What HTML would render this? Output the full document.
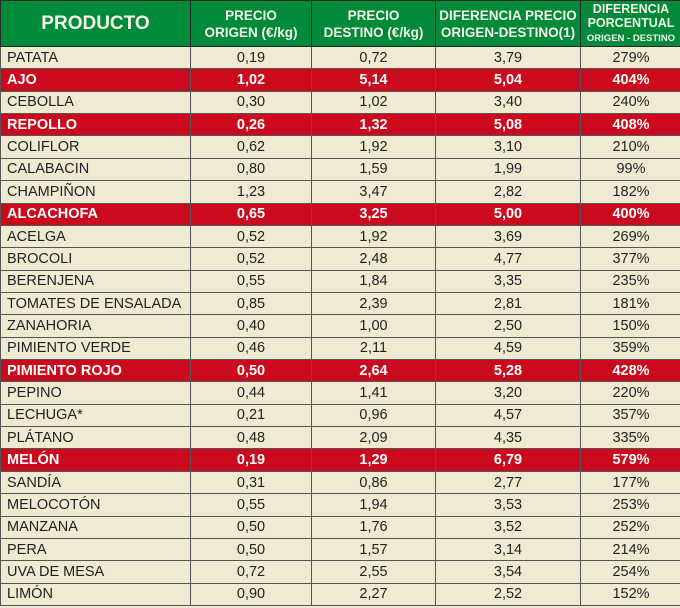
<!DOCTYPE html>
<html><head><meta charset="utf-8"><style>
html,body{margin:0;padding:0;width:680px;height:608px;overflow:hidden;background:#efebd3;}
table{border-collapse:collapse;table-layout:fixed;width:681px;position:absolute;left:0;top:0;font-family:"Liberation Sans",Arial,sans-serif;}
td,th{border:1px solid #555;padding:0;text-align:center;font-size:14.5px;color:#222;white-space:nowrap;overflow:hidden;}
td:first-child{text-align:left;padding-left:6px;}
th{background:#018a3b;color:#f4f4e4;font-weight:bold;font-size:13.5px;line-height:17px;height:45px;border-color:#2a2a2a;}
th.p{font-size:19px;}
th.s{font-size:12.5px;line-height:14px;}
th.s span{font-size:9.5px;}
tr.r{height:22.36px;background:#efebd3;}
tr.x td{background:#cc0a1e;color:#fff;font-weight:bold;}
</style></head><body>
<table>
<colgroup><col style="width:190px"><col style="width:121px"><col style="width:124px"><col style="width:145px"><col style="width:101px"></colgroup>
<tr><th class="p">PRODUCTO</th><th>PRECIO<br>ORIGEN (€/kg)</th><th>PRECIO<br>DESTINO (€/kg)</th><th>DIFERENCIA PRECIO<br>ORIGEN-DESTINO(1)</th><th class="s">DIFERENCIA<br>PORCENTUAL<br><span>ORIGEN - DESTINO</span></th></tr>
<tr class="r"><td>PATATA</td><td>0,19</td><td>0,72</td><td>3,79</td><td>279%</td></tr>
<tr class="r x"><td>AJO</td><td>1,02</td><td>5,14</td><td>5,04</td><td>404%</td></tr>
<tr class="r"><td>CEBOLLA</td><td>0,30</td><td>1,02</td><td>3,40</td><td>240%</td></tr>
<tr class="r x"><td>REPOLLO</td><td>0,26</td><td>1,32</td><td>5,08</td><td>408%</td></tr>
<tr class="r"><td>COLIFLOR</td><td>0,62</td><td>1,92</td><td>3,10</td><td>210%</td></tr>
<tr class="r"><td>CALABACIN</td><td>0,80</td><td>1,59</td><td>1,99</td><td>99%</td></tr>
<tr class="r"><td>CHAMPIÑON</td><td>1,23</td><td>3,47</td><td>2,82</td><td>182%</td></tr>
<tr class="r x"><td>ALCACHOFA</td><td>0,65</td><td>3,25</td><td>5,00</td><td>400%</td></tr>
<tr class="r"><td>ACELGA</td><td>0,52</td><td>1,92</td><td>3,69</td><td>269%</td></tr>
<tr class="r"><td>BROCOLI</td><td>0,52</td><td>2,48</td><td>4,77</td><td>377%</td></tr>
<tr class="r"><td>BERENJENA</td><td>0,55</td><td>1,84</td><td>3,35</td><td>235%</td></tr>
<tr class="r"><td>TOMATES DE ENSALADA</td><td>0,85</td><td>2,39</td><td>2,81</td><td>181%</td></tr>
<tr class="r"><td>ZANAHORIA</td><td>0,40</td><td>1,00</td><td>2,50</td><td>150%</td></tr>
<tr class="r"><td>PIMIENTO VERDE</td><td>0,46</td><td>2,11</td><td>4,59</td><td>359%</td></tr>
<tr class="r x"><td>PIMIENTO ROJO</td><td>0,50</td><td>2,64</td><td>5,28</td><td>428%</td></tr>
<tr class="r"><td>PEPINO</td><td>0,44</td><td>1,41</td><td>3,20</td><td>220%</td></tr>
<tr class="r"><td>LECHUGA*</td><td>0,21</td><td>0,96</td><td>4,57</td><td>357%</td></tr>
<tr class="r"><td>PLÁTANO</td><td>0,48</td><td>2,09</td><td>4,35</td><td>335%</td></tr>
<tr class="r x"><td>MELÓN</td><td>0,19</td><td>1,29</td><td>6,79</td><td>579%</td></tr>
<tr class="r"><td>SANDÍA</td><td>0,31</td><td>0,86</td><td>2,77</td><td>177%</td></tr>
<tr class="r"><td>MELOCOTÓN</td><td>0,55</td><td>1,94</td><td>3,53</td><td>253%</td></tr>
<tr class="r"><td>MANZANA</td><td>0,50</td><td>1,76</td><td>3,52</td><td>252%</td></tr>
<tr class="r"><td>PERA</td><td>0,50</td><td>1,57</td><td>3,14</td><td>214%</td></tr>
<tr class="r"><td>UVA DE MESA</td><td>0,72</td><td>2,55</td><td>3,54</td><td>254%</td></tr>
<tr class="r"><td>LIMÓN</td><td>0,90</td><td>2,27</td><td>2,52</td><td>152%</td></tr>
</table>
</body></html>
